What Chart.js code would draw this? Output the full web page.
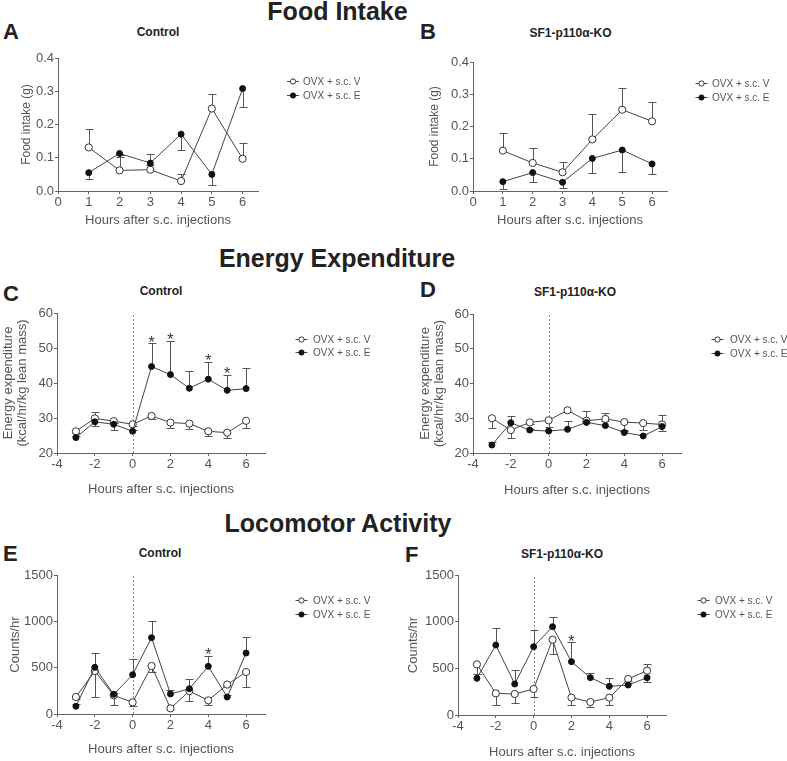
<!DOCTYPE html>
<html><head><meta charset="utf-8">
<script src="https://cdn.jsdelivr.net/npm/chart.js@4.4.0/dist/chart.umd.min.js"></script>
<style>
html,body{margin:0;padding:0;background:#fff;}
body{width:787px;height:761px;position:relative;overflow:hidden;font-family:"Liberation Sans",Arial,sans-serif;}
canvas{position:absolute;}
.t{position:absolute;white-space:nowrap;line-height:1;color:#222;font-weight:bold;}
</style></head><body>
<script>
// ---------- categories / ticks ----------
const foodHours = [1, 2, 3, 4, 5, 6];
const timeHours = [-3, -2, -1, 0, 1, 2, 3, 4, 5, 6];
const foodTicksX = [0, 1, 2, 3, 4, 5, 6];
const timeTicksX = [-4, -2, 0, 2, 4, 6];
const foodTicksY = [0, 0.1, 0.2, 0.3, 0.4];
const eeTicksY = [20, 30, 40, 50, 60];
const locoTicksY = [0, 500, 1000, 1500];
const seriesLabels = ['OVX + s.c. V', 'OVX + s.c. E'];

// ---------- A: Food intake, Control ----------
const ctrlFoodV    = [0.131, 0.062, 0.064, 0.030, 0.248, 0.097];
const ctrlFoodVErr = [0.055, 0.046, 0.047, 0.020, 0.045, 0.046];
const ctrlFoodE    = [0.055, 0.113, 0.084, 0.171, 0.050, 0.308];
const ctrlFoodEErr = [0.018, 0.010, 0.006, 0.049, 0.033, 0.055];
// ---------- B: Food intake, SF1-p110a-KO ----------
const koFoodV    = [0.125, 0.087, 0.058, 0.160, 0.252, 0.216];
const koFoodVErr = [0.056, 0.046, 0.033, 0.078, 0.067, 0.061];
const koFoodE    = [0.029, 0.057, 0.027, 0.101, 0.127, 0.084];
const koFoodEErr = [0.022, 0.030, 0.017, 0.044, 0.067, 0.030];
// ---------- C: Energy expenditure, Control ----------
const ctrlEEV    = [26.2, 29.9, 29.1, 28.2, 30.6, 28.7, 28.4, 26.2, 25.8, 29.2];
const ctrlEEVErr = [0.5, 2.1, 2.6, 0.5, 0.8, 1.5, 1.6, 1.2, 1.5, 2.0];
const ctrlEEE    = [24.4, 28.9, 28.2, 26.2, 44.7, 42.4, 38.5, 41.1, 37.9, 38.4];
const ctrlEEEErr = [0.4, 2.7, 0.5, 0.5, 6.6, 9.6, 5.0, 4.9, 4.5, 6.0];
const ctrlEESig  = [0, 0, 0, 0, 1, 1, 0, 1, 1, 0];
// ---------- D: Energy expenditure, SF1-p110a-KO ----------
const koEEV    = [30.0, 26.6, 28.8, 29.4, 32.3, 29.3, 29.8, 28.9, 28.6, 28.2];
const koEEVErr = [2.8, 2.4, 0.4, 1.8, 0.5, 0.5, 0.5, 2.2, 2.1, 1.8];
const koEEE    = [22.3, 28.7, 26.6, 26.3, 26.8, 28.8, 27.9, 25.9, 24.9, 27.6];
const koEEEErr = [0.9, 1.9, 0.4, 0.4, 2.3, 3.3, 3.5, 0.5, 0.5, 3.3];
const koEESig  = [0, 0, 0, 0, 0, 0, 0, 0, 0, 0];
// ---------- E: Locomotor activity, Control ----------
const ctrlLocoV    = [183, 464, 201, 126, 518, 61, 248, 147, 317, 453];
const ctrlLocoVErr = [20, 281, 100, 40, 68, 10, 104, 46, 20, 162];
const ctrlLocoE    = [83, 504, 212, 424, 824, 216, 273, 514, 183, 658];
const ctrlLocoEErr = [20, 154, 20, 170, 176, 43, 101, 112, 20, 173];
const ctrlLocoSig  = [0, 0, 0, 0, 0, 0, 0, 1, 0, 0];
// ---------- F: Locomotor activity, SF1-p110a-KO ----------
const koLocoV    = [543, 232, 225, 279, 807, 186, 139, 186, 386, 475];
const koLocoVErr = [100, 125, 93, 83, 157, 79, 50, 82, 20, 118];
const koLocoE    = [393, 750, 332, 732, 946, 571, 400, 307, 321, 400];
const koLocoEErr = [50, 186, 150, 182, 108, 208, 46, 93, 20, 143];
const koLocoSig  = [0, 0, 0, 0, 0, 1, 0, 0, 0, 0];

const FONT = '"Liberation Sans", Arial, sans-serif';
Chart.defaults.font.family = FONT;
Chart.defaults.color = '#555';

// ---------- page text ----------
function addText(txt, x, baseline, size, center, weight) {
  const d = document.createElement('div');
  d.className = 't';
  d.textContent = txt;
  d.style.fontSize = size + 'px';
  d.style.top = (baseline - 0.8465 * size) + 'px';
  d.style.left = x + 'px';
  if (weight) d.style.fontWeight = weight;
  if (center) d.style.transform = 'translateX(-50%)';
  document.body.appendChild(d);
}
addText('Food Intake', 337.5, 20, 25, true);
addText('Energy Expenditure', 337, 267, 25, true);
addText('Locomotor Activity', 338, 532, 25, true);
addText('A', 3, 40, 22); addText('B', 420, 40, 22);
addText('C', 3, 302, 22); addText('D', 420, 298, 22);
addText('E', 3, 562, 22); addText('F', 405, 563, 22);
addText('Control', 158, 36, 12, true);
addText('SF1-p110α-KO', 570.5, 37.5, 12, true);
addText('Control', 161, 295, 12, true);
addText('SF1-p110α-KO', 575, 296.5, 12, true);
addText('Control', 160, 557, 12, true);
addText('SF1-p110α-KO', 562, 558, 12, true);

// ---------- decoration plugin: error bars, zero line, asterisks, legend ----------
const decoPlugin = {
  id: 'deco',
  beforeDatasetsDraw(chart, args, o) {
    const {ctx, chartArea: a, scales: {x, y}} = chart;
    ctx.save();
    if (o.zeroLine) {
      const px = Math.round(x.getPixelForValue(0)) + 0.5;
      ctx.strokeStyle = '#888'; ctx.lineWidth = 1; ctx.setLineDash([2, 2]);
      ctx.beginPath(); ctx.moveTo(px, a.bottom); ctx.lineTo(px, a.top); ctx.stroke();
      ctx.setLineDash([]);
    }
    ctx.strokeStyle = '#555'; ctx.lineWidth = 1;
    chart.data.datasets.forEach(ds => {
      ds.data.forEach((p, i) => {
        const err = ds.errors[i];
        if (!err) return;
        const px = Math.round(x.getPixelForValue(p.x)) + 0.5;
        const y0 = y.getPixelForValue(p.y);
        const y1 = Math.round(y.getPixelForValue(p.y + ds.errDir * err)) + 0.5;
        ctx.beginPath();
        ctx.moveTo(px, y0); ctx.lineTo(px, y1);
        ctx.moveTo(px - 4, y1); ctx.lineTo(px + 4, y1);
        ctx.stroke();
      });
    });
    ctx.restore();
  },
  afterDatasetsDraw(chart, args, o) {
    const {ctx, scales: {x, y}} = chart;
    ctx.save();
    // asterisks
    chart.data.datasets.forEach(ds => {
      if (!ds.sig) return;
      ds.data.forEach((p, i) => {
        if (!ds.sig[i]) return;
        const px = x.getPixelForValue(p.x);
        const top = y.getPixelForValue(p.y + ds.errDir * ds.errors[i]);
        ctx.font = '16px ' + FONT; ctx.fillStyle = '#333';
        ctx.textAlign = 'center'; ctx.textBaseline = 'alphabetic';
        ctx.fillText('*', px, top + 4.3);
      });
    });
    // legend
    const L = o.legend;
    chart.data.datasets.forEach((ds, i) => {
      const lx = L.x - o.ox, ly = L.y[i] - o.oy, tx = L.tx - o.ox;
      ctx.strokeStyle = '#444'; ctx.lineWidth = 1;
      ctx.beginPath(); ctx.moveTo(lx - 6, ly + 0.5); ctx.lineTo(lx + 6, ly + 0.5); ctx.stroke();
      ctx.beginPath(); ctx.arc(lx, ly + 0.5, 2.6, 0, Math.PI * 2);
      ctx.fillStyle = ds.pointBackgroundColor; ctx.fill();
      ctx.strokeStyle = ds.pointBorderColor; ctx.stroke();
      ctx.font = '10px ' + FONT; ctx.fillStyle = '#555';
      ctx.textAlign = 'left'; ctx.textBaseline = 'middle';
      ctx.fillText(ds.label, tx, ly + 1);
    });
    ctx.restore();
  }
};

// ---------- panels ----------
const panels = [
  {rect: [0, 45, 390, 190], area: [58, 58, 258, 191], xs: foodHours, xTicks: foodTicksX, xMin: 0, xMax: 6.5,
   yTicks: foodTicksY, yMin: 0, yMax: 0.4, dec: 1, v: ctrlFoodV, vErr: ctrlFoodVErr, vDir: 1,
   e: ctrlFoodE, eErr: ctrlFoodEErr, eDir: -1, sig: null, yTitle: 'Food intake (g)', yTitleSize: 12,
   yTitleX: 27, xTitleY: 220, zero: false, legend: {x: 293, tx: 303, y: [81, 95]}},
  {rect: [390, 45, 397, 190], area: [473, 62, 667, 191], xs: foodHours, xTicks: foodTicksX, xMin: 0, xMax: 6.5,
   yTicks: foodTicksY, yMin: 0, yMax: 0.4, dec: 1, v: koFoodV, vErr: koFoodVErr, vDir: 1,
   e: koFoodE, eErr: koFoodEErr, eDir: -1, sig: null, yTitle: 'Food intake (g)', yTitleSize: 12,
   yTitleX: 435, xTitleY: 220, zero: false, legend: {x: 701.5, tx: 712, y: [83, 97]}},
  {rect: [0, 300, 390, 200], area: [57, 313, 265, 453], xs: timeHours, xTicks: timeTicksX, xMin: -4, xMax: 7,
   yTicks: eeTicksY, yMin: 20, yMax: 60, dec: 0, v: ctrlEEV, vErr: ctrlEEVErr, vDir: -1,
   e: ctrlEEE, eErr: ctrlEEEErr, eDir: 1, sig: ctrlEESig,
   yTitle: ['Energy expenditure', '(kcal/hr/kg lean mass)'], yTitleSize: 13,
   yTitleX: 8, xTitleY: 489.5, zero: true, legend: {x: 301.5, tx: 313, y: [339, 352]}},
  {rect: [390, 300, 397, 200], area: [473, 314, 681, 453], xs: timeHours, xTicks: timeTicksX, xMin: -4, xMax: 7,
   yTicks: eeTicksY, yMin: 20, yMax: 60, dec: 0, v: koEEV, vErr: koEEVErr, vDir: -1,
   e: koEEE, eErr: koEEEErr, eDir: 1, sig: koEESig,
   yTitle: ['Energy expenditure', '(kcal/hr/kg lean mass)'], yTitleSize: 13,
   yTitleX: 425, xTitleY: 490, zero: true, legend: {x: 717.5, tx: 730, y: [339, 353]}},
  {rect: [0, 563, 390, 198], area: [57, 575, 265, 714], xs: timeHours, xTicks: timeTicksX, xMin: -4, xMax: 7,
   yTicks: locoTicksY, yMin: 0, yMax: 1500, dec: 0, v: ctrlLocoV, vErr: ctrlLocoVErr, vDir: -1,
   e: ctrlLocoE, eErr: ctrlLocoEErr, eDir: 1, sig: ctrlLocoSig, yTitle: 'Counts/hr', yTitleSize: 13,
   yTitleX: 15, xTitleY: 749.5, zero: true, legend: {x: 301.5, tx: 313, y: [600, 614]}},
  {rect: [390, 563, 397, 198], area: [458, 575, 666, 715], xs: timeHours, xTicks: timeTicksX, xMin: -4, xMax: 7,
   yTicks: locoTicksY, yMin: 0, yMax: 1500, dec: 0, v: koLocoV, vErr: koLocoVErr, vDir: -1,
   e: koLocoE, eErr: koLocoEErr, eDir: 1, sig: koLocoSig, yTitle: 'Counts/hr', yTitleSize: 13,
   yTitleX: 413, xTitleY: 752, zero: true, legend: {x: 703.5, tx: 715, y: [600, 614]}}
];

panels.forEach(p => {
  const [cx, cy, cw, ch] = p.rect;
  const [al, at, ar, ab] = p.area;
  const cv = document.createElement('canvas');
  cv.width = cw; cv.height = ch;
  cv.style.left = cx + 'px'; cv.style.top = cy + 'px';
  cv.style.width = cw + 'px'; cv.style.height = ch + 'px';
  document.body.appendChild(cv);

  const yW = al - cx;
  const yLH = Array.isArray(p.yTitle) ? 14.5 : p.yTitleSize * 1.2;
  const yPad = p.yTitleX - cx - yLH / 2;
  const xLH = 13 * 1.2;
  const xH = p.xTitleY - ab + xLH / 2;

  const axis = (min, max, tickVals, fmt, extra) => Object.assign({
    type: 'linear', min, max,
    afterBuildTicks: s => { s.ticks = tickVals.map(v => ({value: v})); },
    ticks: {font: {size: 13}, color: '#555', padding: 1, callback: fmt},
    grid: {drawOnChartArea: false, drawTicks: true, tickLength: 3, color: '#666', lineWidth: 1},
    border: {display: true, color: '#666', width: 1}
  }, extra);

  new Chart(cv, {
    type: 'line',
    data: {
      datasets: [
        {label: seriesLabels[0], data: p.xs.map((h, i) => ({x: h, y: p.v[i]})),
         errors: p.vErr, errDir: p.vDir, sig: null, order: 1,
         borderColor: '#444', borderWidth: 1, pointRadius: 3.6, pointBorderWidth: 1,
         pointBackgroundColor: '#ffffff', pointBorderColor: '#333', tension: 0},
        {label: seriesLabels[1], data: p.xs.map((h, i) => ({x: h, y: p.e[i]})),
         errors: p.eErr, errDir: p.eDir, sig: p.sig, order: 0,
         borderColor: '#444', borderWidth: 1, pointRadius: 3, pointBorderWidth: 1,
         pointBackgroundColor: '#111', pointBorderColor: '#111', tension: 0}
      ]
    },
    options: {
      responsive: false, animation: false, devicePixelRatio: 1,
      layout: {padding: {left: 0, top: at - cy, right: cx + cw - ar, bottom: cy + ch - ab - xH}},
      plugins: {
        legend: {display: false}, title: {display: false}, tooltip: {enabled: false},
        deco: {zeroLine: p.zero, legend: p.legend, ox: cx, oy: cy}
      },
      scales: {
        x: axis(p.xMin, p.xMax, p.xTicks, v => String(v), {
          position: 'bottom',
          afterFit: s => { s.height = xH; },
          title: {display: true, text: 'Hours after s.c. injections', color: '#555',
                  font: {size: 13}, padding: {top: 0, bottom: 0}}
        }),
        y: axis(p.yMin, p.yMax, p.yTicks, v => p.dec ? v.toFixed(p.dec) : String(v), {
          position: 'left',
          afterFit: s => { s.width = yW; },
          title: {display: true, text: p.yTitle, color: '#555',
                  font: {size: p.yTitleSize, lineHeight: Array.isArray(p.yTitle) ? 14.5 / 13 : 1.2},
                  padding: {top: yPad, bottom: 0}}
        })
      }
    },
    plugins: [decoPlugin]
  });
});
</script>
</body></html>
